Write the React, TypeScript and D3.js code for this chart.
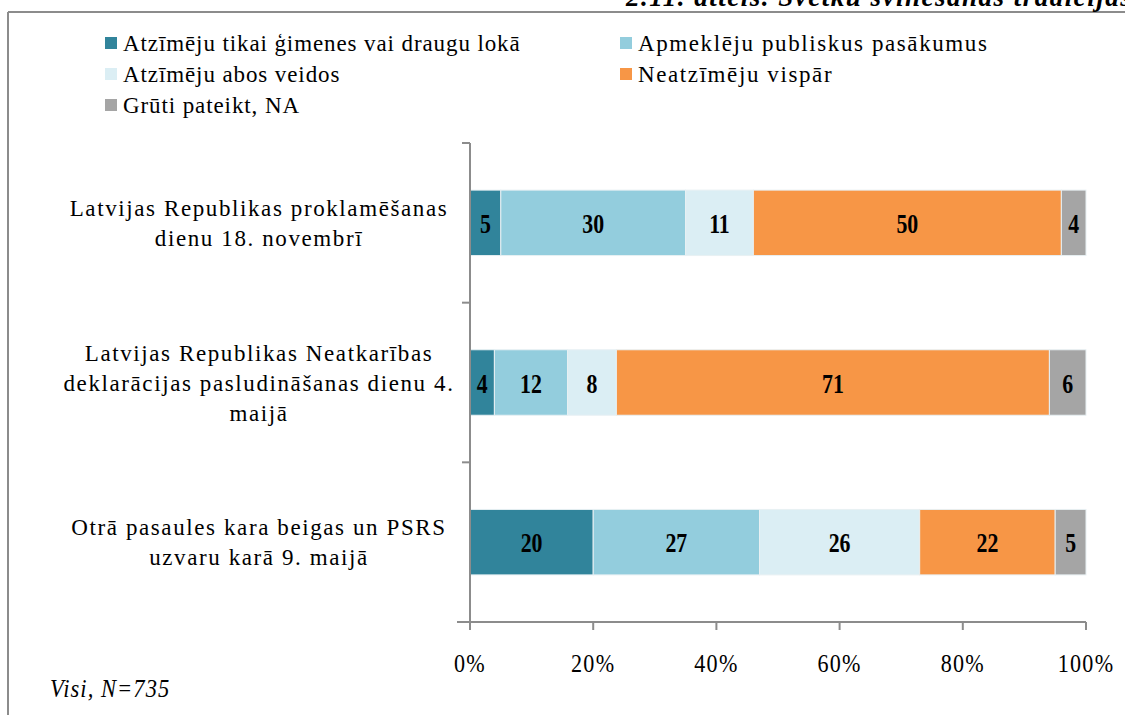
import React, { useEffect, useRef } from "react";
import * as d3 from "d3";

// categories (top to bottom)
const categories = ["18nov", "4mai", "9mai"];
const categoryLabels = [
  ["Latvijas Republikas proklamēšanas", "dienu 18. novembrī"],
  ["Latvijas Republikas Neatkarības", "deklarācijas pasludināšanas dienu 4.", "maijā"],
  ["Otrā pasaules kara beigas un PSRS", "uzvaru karā 9. maijā"],
];

const seriesNames = [
  "Atzīmēju tikai ģimenes vai draugu lokā",
  "Apmeklēju publiskus pasākumus",
  "Atzīmēju abos veidos",
  "Neatzīmēju vispār",
  "Grūti pateikt, NA",
];
const seriesColors = ["#31849B", "#93CDDD", "#DBEEF4", "#F79646", "#A5A5A5"];

// values per category, in percent
const onlyFamily = [5, 4, 20];
const publicEvents = [30, 12, 27];
const bothWays = [11, 8, 26];
const notAtAll = [50, 71, 22];
const hardToSay = [4, 6, 5];

const xTicks = [0, 0.2, 0.4, 0.6, 0.8, 1];
const tickLabels = ["0%", "20%", "40%", "60%", "80%", "100%"];

const FONT = "Liberation Serif, Tinos, Times New Roman, DejaVu Serif, serif";

function App() {
  const ref = useRef<SVGSVGElement>(null);

  useEffect(() => {
    const svg = d3.select(ref.current);
    svg.selectAll("*").remove();

    const allSeries = [onlyFamily, publicEvents, bothWays, notAtAll, hardToSay];
    const keys = seriesNames.map((_, i) => "s" + i);
    const table = categories.map((c, ci) => {
      const row: any = { cat: c };
      keys.forEach((k, si) => (row[k] = allSeries[si][ci]));
      return row;
    });

    // 100% stacked (second row sums to 101, so normalise like the source chart)
    const stacked = d3.stack<any>().keys(keys).offset(d3.stackOffsetExpand)(table);

    const x = d3.scaleLinear().domain([0, 1]).range([470, 1086]);
    const y = d3
      .scaleBand()
      .domain(categories)
      .range([143, 622])
      .paddingInner(0.59)
      .paddingOuter(0.295);

    // frame
    svg.append("line").attr("x1", 8).attr("x2", 1125).attr("y1", 12).attr("y2", 12)
      .attr("stroke", "#8c8c8c").attr("stroke-width", 2);
    svg.append("line").attr("x1", 8).attr("x2", 8).attr("y1", 12).attr("y2", 715)
      .attr("stroke", "#8c8c8c").attr("stroke-width", 2);

    // title, cut at top as in the source page
    svg.append("text")
      .attr("x", 626).attr("y", 6)
      .style("font-family", FONT).attr("font-size", 27)
      .attr("font-weight", "bold").attr("font-style", "italic")
      .attr("letter-spacing", 1.5)
      .attr("fill", "#000")
      .text("2.11. attēls. Svētku svinēšanas tradīcijas");

    // legend
    const legend = svg.append("g");
    seriesNames.forEach((name, i) => {
      const col = i % 2;
      const row = Math.floor(i / 2);
      const lx = col === 0 ? 105 : 620;
      const ly = 37 + row * 31;
      legend.append("rect").attr("x", lx).attr("y", ly).attr("width", 12).attr("height", 12)
        .attr("fill", seriesColors[i]);
      legend.append("text").attr("x", lx + 18).attr("y", ly + 14)
        .style("font-family", FONT).attr("font-size", 23).attr("fill", "#000")
        .attr("letter-spacing", col === 0 ? 0.9 : 1.6)
        .text(name);
    });

    // bars
    const layers = svg.append("g").selectAll("g").data(stacked).enter().append("g")
      .attr("fill", (_d, i) => seriesColors[i]);
    layers.selectAll("rect").data((d) => d.map((p) => ({ p, key: d.key }))).enter().append("rect")
      .attr("x", (d) => x(d.p[0]))
      .attr("y", (d) => y(d.p.data.cat) as number)
      .attr("width", (d) => x(d.p[1]) - x(d.p[0]))
      .attr("height", y.bandwidth())
      .attr("stroke", "#e8f0f3").attr("stroke-width", 1);

    // value labels (narrow, tall bold digits)
    layers.selectAll("text").data((d) => d.map((p) => ({ p, key: d.key }))).enter().append("text")
      .attr("transform", (d) =>
        `translate(${(x(d.p[0]) + x(d.p[1])) / 2},${(y(d.p.data.cat) as number) + y.bandwidth() / 2 + 10}) scale(0.78,1)`)
      .attr("text-anchor", "middle")
      .style("font-family", FONT).attr("font-size", 28).attr("font-weight", "bold")
      .attr("fill", "#000")
      .text((d) => d.p.data[d.key]);

    // axes
    const axisColor = "#8c8c8c";
    svg.append("line").attr("x1", 470).attr("x2", 470).attr("y1", 143).attr("y2", 630)
      .attr("stroke", axisColor).attr("stroke-width", 2);
    svg.append("line").attr("x1", 457).attr("x2", 1086).attr("y1", 622).attr("y2", 622)
      .attr("stroke", axisColor).attr("stroke-width", 2);
    d3.range(categories.length + 1).forEach((i) => {
      const yy = 143 + i * y.step();
      svg.append("line").attr("x1", 462).attr("x2", 470).attr("y1", yy).attr("y2", yy)
        .attr("stroke", axisColor).attr("stroke-width", 2);
    });
    xTicks.forEach((t, i) => {
      svg.append("line").attr("x1", x(t)).attr("x2", x(t)).attr("y1", 622).attr("y2", 630)
        .attr("stroke", axisColor).attr("stroke-width", 2);
      svg.append("text")
        .attr("transform", `translate(${x(t)},672) scale(0.85,1)`)
        .attr("text-anchor", "middle")
        .style("font-family", FONT).attr("font-size", 26).attr("fill", "#000")
        .attr("letter-spacing", 1.5)
        .text(tickLabels[i]);
    });

    // category labels
    categories.forEach((c, ci) => {
      const lines = categoryLabels[ci];
      const cy = (y(c) as number) + y.bandwidth() / 2;
      const lh = 30;
      const top = cy - ((lines.length - 1) * lh) / 2;
      lines.forEach((ln, li) => {
        svg.append("text").attr("x", 259).attr("y", top + li * lh + 8)
          .attr("text-anchor", "middle")
          .style("font-family", FONT).attr("font-size", 23).attr("fill", "#000")
          .attr("letter-spacing", 1.6)
          .text(ln);
      });
    });

    // footnote
    svg.append("text")
      .attr("transform", "translate(50,697) scale(0.9,1)")
      .style("font-family", FONT).attr("font-size", 25).attr("font-style", "italic")
      .attr("letter-spacing", 1.2)
      .attr("fill", "#000")
      .text("Visi, N=735");
  }, []);

  return (
    <svg
      ref={ref}
      width={1125}
      height={715}
      style={{ position: "absolute", left: 0, top: 0, background: "#fff" }}
    />
  );
}

export default App;
